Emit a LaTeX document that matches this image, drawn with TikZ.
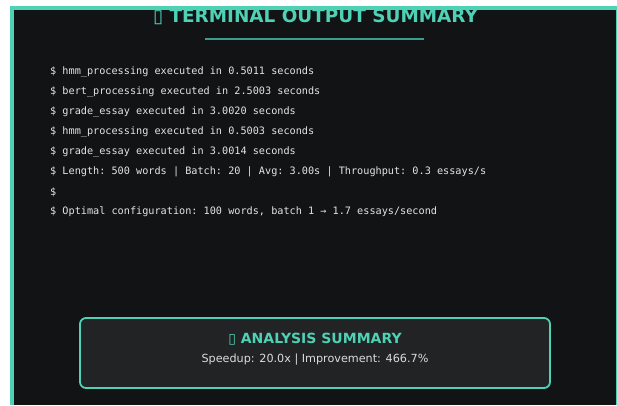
\documentclass[tikz,border=0pt]{standalone}
\usepackage{fontspec}
\setmainfont{DejaVu Sans}
\setmonofont{DejaVu Sans Mono}
\definecolor{termteal}{HTML}{4FD1B5}
\definecolor{termline}{HTML}{3A9E8C}
\definecolor{panelbg}{HTML}{121314}
\definecolor{boxbg}{HTML}{222324}
\definecolor{termtext}{HTML}{E4E4E4}
\definecolor{sumtext}{HTML}{DCDCDC}
\tikzset{
  termrow/.style={anchor=west, inner sep=0pt, text=termtext, font=\ttfamily\fontsize{10.2}{12}\selectfont},
  headtext/.style={text=termteal, inner sep=0pt, font=\bfseries\fontsize{18.4}{22}\selectfont},
}

\begin{document}
\begin{tikzpicture}[x=1pt,y=-1pt]
        \useasboundingbox (0,0) rectangle (617,405);
        \fill[white] (0,0) rectangle (617,405);
        \fill[panelbg] (12,8) rectangle (617,405);

        % Title
        \begin{scope}
            \clip (12,8) rectangle (617,405);
            \node[headtext] (title) at (315.5,16.5) {▯ TERMINAL OUTPUT SUMMARY};
        \end{scope}
        \draw[termteal, line width=4] (12,405) -- (12,7.5) -- (617,7.5);
        \draw[termteal, line width=1] (616.5,7.5) -- (616.5,405);
        \draw[termline, line width=2.5] (205,39) -- (424,39);

        % Terminal lines
        \node[termrow] (l1) at (50,72) {\$ hmm\_processing executed in 0.5011 seconds};
        \node[termrow] (l2) at (50,92) {\$ bert\_processing executed in 2.5003 seconds};
        \node[termrow] (l3) at (50,112) {\$ grade\_essay executed in 3.0020 seconds};
        \node[termrow] (l4) at (50,132) {\$ hmm\_processing executed in 0.5003 seconds};
        \node[termrow] (l5) at (50,152) {\$ grade\_essay executed in 3.0014 seconds};
        \node[termrow] (l6) at (50,172) {\$ Length: 500 words | Batch: 20 | Avg: 3.00s | Throughput: 0.3 essays/s};
        \node[termrow] (l7) at (50,192) {\$};
        \node[termrow] (l8) at (50,212) {\$ Optimal configuration: 100 words, batch 1 → 1.7 essays/second};

        % Summary box
        \node[draw=termteal, line width=1.8pt, rounded corners=6pt, fill=boxbg,
              minimum width=470pt, minimum height=70pt] (summary) at (315,353) {};
        \node[headtext, font=\bfseries\fontsize{14}{17}\selectfont] (sumtitle) at (315,339) {▯ ANALYSIS SUMMARY};
        \node[text=sumtext, inner sep=0pt, font=\fontsize{11.2}{14}\selectfont] (sumline) at (315,359.5) {Speedup: 20.0x | Improvement: 466.7\%};
\end{tikzpicture}
\end{document}
